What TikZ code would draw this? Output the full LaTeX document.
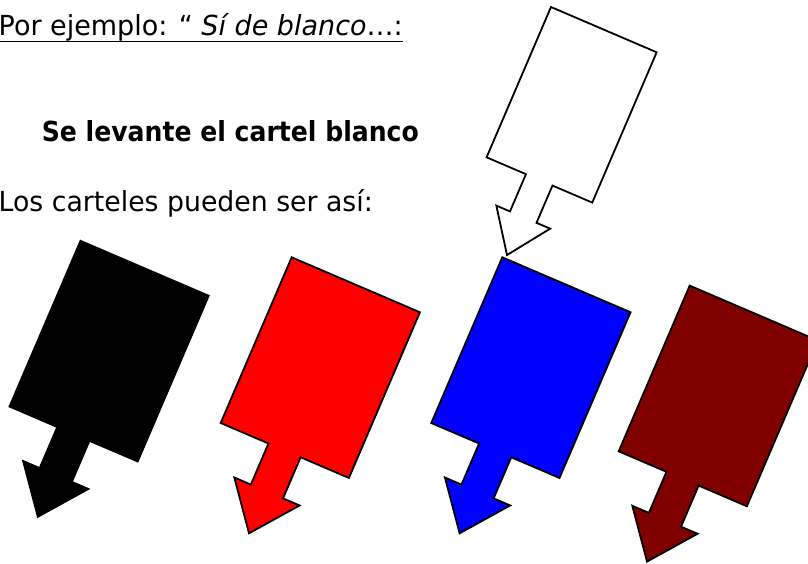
\documentclass[tikz,border=0pt]{standalone}
\usepackage{fontspec}
\setmainfont{DejaVu Sans}
\usepackage{graphicx}
\tikzset{
  txt/.style={anchor=base west, inner sep=0pt, font=\fontsize{27.6}{33}\selectfont},
  card/.style={draw=black, line width=1.8pt, line join=miter},
}
\newcommand{\drawcard}[5]{%
  \begin{scope}[shift={(#1,#2)}, rotate=-23.2, xscale=#3, yscale=#4]
    \draw[card, fill=#5] (0,0) -- (139.5,0) -- (139.5,180.3) -- (87,180.3)
      -- (87,225) -- (105,225) -- (69.5,270.5) -- (34,225) -- (52,225)
      -- (52,180.3) -- (0,180.3) -- cycle;
  \end{scope}}
\definecolor{maroonc}{RGB}{128,0,0}
\begin{document}
\begin{tikzpicture}[x=1pt, y=-1pt]
  \fill[white] (0,0) rectangle (808,563);
  \useasboundingbox (0,0) rectangle (808,563);
  % texts
  \node[txt] (t1) at (-1.5,35.8) {\scalebox{0.978}[1]{Por ejemplo: “ \textit{Sí de blanco}…:}};
  \draw[line width=1.6pt] ([xshift=1.5pt,yshift=-5.6pt]t1.base west) -- ([yshift=-5.6pt]t1.base east);
  \node[txt] (t2) at (41.6,141.5) {\scalebox{0.91}[1]{\bfseries Se levante el cartel blanco}};
  \node[txt] (t3) at (-1.5,211) {\scalebox{0.968}[1]{Los carteles pueden ser así:}};
  % cards
  \drawcard{551}{7}{0.824}{0.907}{white}
  \drawcard{80.5}{240.8}{1}{1}{black}
  \drawcard{291.7}{257.3}{1}{1}{red}
  \drawcard{502.3}{257.3}{1}{1}{blue}
  \drawcard{689.7}{285.6}{1}{1}{maroonc}
\end{tikzpicture}
\end{document}
